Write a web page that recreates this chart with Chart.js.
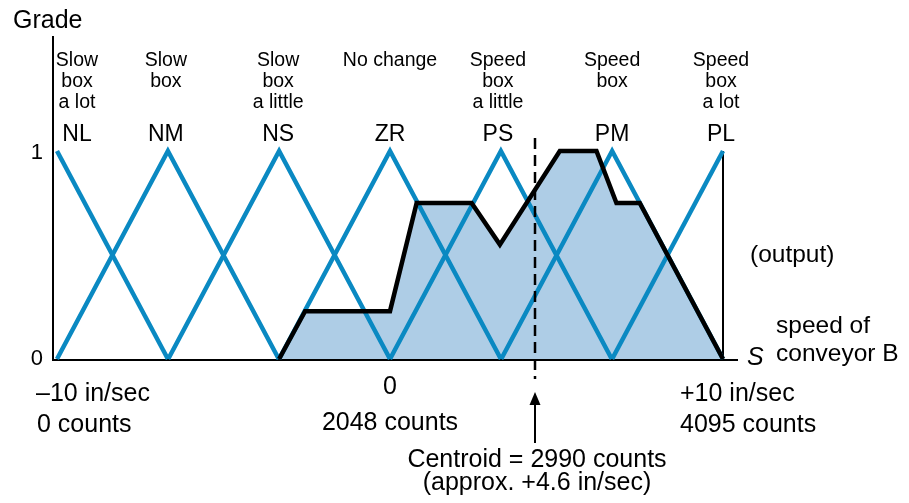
<!DOCTYPE html>
<html>
<head>
<meta charset="utf-8">
<script src="https://cdn.jsdelivr.net/npm/chart.js@4/dist/chart.umd.min.js"></script>
<style>
  html, body { margin: 0; padding: 0; background: #fff; }
  #wrap { width: 909px; height: 503px; position: relative; }
</style>
</head>
<body>
<div id="wrap"><canvas id="c" width="909" height="503"></canvas></div>
<script>
// fuzzy output sets for conveyor B speed (in/sec)
const setNames = ["NL", "NM", "NS", "ZR", "PS", "PM", "PL"];
const setMeanings = [
  ["Slow", "box", "a lot"],
  ["Slow", "box"],
  ["Slow", "box", "a little"],
  ["No change"],
  ["Speed", "box", "a little"],
  ["Speed", "box"],
  ["Speed", "box", "a lot"]
];
const setPeaks = [-10, -6.67, -3.33, 0, 3.33, 6.67, 10];
const setHalfWidth = 3.33;

// aggregated (clipped) output shape
const outputSpeed = [-3.33, -2.55, 0, 0.8, 2.45, 3.3, 5.1, 6.2, 6.8, 7.5, 10];
const outputGrade = [0, 0.23, 0.23, 0.75, 0.75, 0.55, 1, 1, 0.75, 0.75, 0];

const centroidSpeed = 4.35;
const speedMin = -10, speedMax = 10;

const blue = "#0a89c2";
const fillBlue = "#aecde6";
const FONT = '"Liberation Sans", Arial, sans-serif';

const outputPoints = outputSpeed.map((s, i) => ({ x: s, y: outputGrade[i] }));

const triangleSets = setPeaks.map((p, i) => {
  const pts = [];
  if (p - setHalfWidth >= speedMin - 0.01) pts.push({ x: p - setHalfWidth, y: 0 });
  pts.push({ x: p, y: 1 });
  if (p + setHalfWidth <= speedMax + 0.01) pts.push({ x: p + setHalfWidth, y: 0 });
  return {
    label: setNames[i],
    data: pts,
    borderColor: blue,
    borderWidth: 4.5,
    borderJoinStyle: "miter",
    pointRadius: 0,
    fill: false,
    tension: 0,
    clip: false,
    order: 1
  };
});

const datasets = [
  {
    label: "area",
    data: outputPoints,
    borderWidth: 0,
    backgroundColor: fillBlue,
    fill: "origin",
    pointRadius: 0,
    tension: 0,
    clip: false,
    order: 2
  },
  ...triangleSets,
  {
    label: "output",
    data: outputPoints,
    borderColor: "#000",
    borderWidth: 4.5,
    borderJoinStyle: "miter",
    pointRadius: 0,
    fill: false,
    tension: 0,
    clip: false,
    order: 0
  }
];

function txt(ctx, s, x, y, size, align, style) {
  ctx.font = (style || "") + " " + size + "px " + FONT;
  ctx.textAlign = align || "left";
  ctx.textBaseline = "alphabetic";
  ctx.fillStyle = "#000";
  ctx.fillText(s, x, y);
}

const decorations = {
  id: "decorations",
  beforeDatasetsDraw(chart) {
    const ctx = chart.ctx;
    const xs = chart.scales.x, ys = chart.scales.y;
    const x0 = xs.getPixelForValue(speedMin), x1 = xs.getPixelForValue(speedMax);
    const yb = ys.getPixelForValue(0), yt = ys.getPixelForValue(1);
    ctx.save();
    ctx.strokeStyle = "#000";
    ctx.lineWidth = 2;
    ctx.beginPath();
    // grade axis
    ctx.moveTo(x0 - 4, 36);
    ctx.lineTo(x0 - 4, yb + 2);
    // speed axis
    ctx.moveTo(x0 - 5, yb + 1);
    ctx.lineTo(x1 + 15, yb + 1);
    // right edge
    ctx.moveTo(x1, yt);
    ctx.lineTo(x1, yb);
    ctx.stroke();
    ctx.restore();
  },
  afterDatasetsDraw(chart) {
    const ctx = chart.ctx;
    const xs = chart.scales.x, ys = chart.scales.y;
    const xc = Math.round(xs.getPixelForValue(centroidSpeed));
    ctx.save();

    // centroid dashed line + arrow
    ctx.strokeStyle = "#000";
    ctx.lineWidth = 2.5;
    ctx.setLineDash([11, 6]);
    ctx.beginPath();
    ctx.moveTo(xc, 138);
    ctx.lineTo(xc, 379);
    ctx.stroke();
    ctx.setLineDash([]);
    ctx.lineWidth = 2;
    ctx.beginPath();
    ctx.moveTo(xc, 400);
    ctx.lineTo(xc, 443);
    ctx.stroke();
    ctx.fillStyle = "#000";
    ctx.beginPath();
    ctx.moveTo(xc, 392);
    ctx.lineTo(xc - 5.5, 405);
    ctx.lineTo(xc + 5.5, 405);
    ctx.closePath();
    ctx.fill();

    // titles
    txt(ctx, "Grade", 13, 28, 25);
    txt(ctx, "1", 43, 159, 22, "right");
    txt(ctx, "0", 43, 365, 22, "right");

    // set names and meanings
    const nudge = [20, -2, -1, 0, -3, 0, -2];
    setNames.forEach((n, i) => {
      const cx = xs.getPixelForValue(setPeaks[i]) + nudge[i];
      txt(ctx, n, cx, 141, 23, "center");
      setMeanings[i].forEach((line, j) => {
        txt(ctx, line, cx, 66 + j * 21, 19.5, "center");
      });
    });

    // right side
    txt(ctx, "(output)", 750, 262, 24.5);
    txt(ctx, "speed of", 776, 333, 24.5);
    txt(ctx, "conveyor B", 776, 361, 24.5);
    txt(ctx, "S", 747, 365, 25, "left", "italic");

    // bottom tick text
    txt(ctx, "\u201310 in/sec", 36, 401, 25);
    txt(ctx, "0 counts", 37, 432, 25);
    txt(ctx, "0", xs.getPixelForValue(0), 394, 25, "center");
    txt(ctx, "2048 counts", xs.getPixelForValue(0), 430, 25, "center");
    txt(ctx, "+10 in/sec", 680, 401, 25);
    txt(ctx, "4095 counts", 680, 432, 25);
    txt(ctx, "Centroid = 2990 counts", xc + 2, 467, 25, "center");
    txt(ctx, "(approx. +4.6 in/sec)", xc + 2, 490, 25, "center");
    ctx.restore();
  }
};

new Chart(document.getElementById("c"), {
  type: "line",
  data: { datasets },
  options: {
    responsive: false,
    animation: false,
    layout: { padding: { left: 57, right: 186, top: 151, bottom: 144 } },
    scales: {
      x: { type: "linear", min: speedMin, max: speedMax, display: false },
      y: { type: "linear", min: 0, max: 1, display: false }
    },
    plugins: { legend: { display: false }, tooltip: { enabled: false } }
  },
  plugins: [decorations]
});
</script>
</body>
</html>
